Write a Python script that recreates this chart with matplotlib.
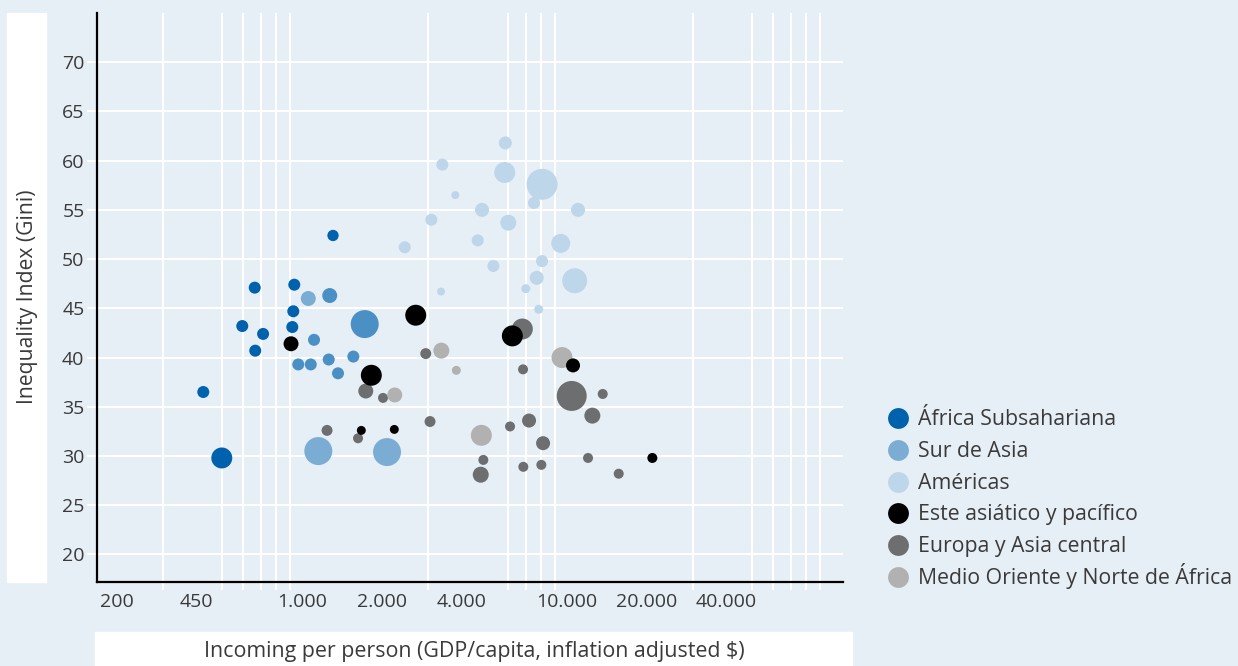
import matplotlib
matplotlib.use("Agg")
import matplotlib.pyplot as plt
from matplotlib.lines import Line2D
from matplotlib.patches import Rectangle

plt.rcParams['font.family'] = ['Open Sans', 'DejaVu Sans']

# ---- data (GDP per capita, Gini, population-ish size) ----
africa_gdp = [1309, 663, 935, 927, 595, 919, 713, 666, 424, 498]
africa_gini = [52.4, 47.1, 47.4, 44.7, 43.2, 43.1, 42.4, 40.7, 36.5, 29.8]
africa_pop = [32, 36, 36, 36, 36, 36, 36, 36, 36, 110]

sur_asia_gdp = [1056, 1152, 2093, 1272, 1724, 1110, 968, 1079, 1261, 1562, 1367]
sur_asia_gini = [46.0, 30.5, 30.4, 46.3, 43.4, 41.8, 39.3, 39.3, 39.8, 40.1, 38.4]
sur_asia_pop = [56, 196, 196, 56, 196, 36, 36, 36, 36, 36, 36]
sur_asia_light = [1, 1, 1, 0, 0, 0, 0, 0, 0, 0, 0]

americas_gdp = [5850, 3384, 5821, 8049, 3789, 7506, 11004, 4778, 3076, 6003,
                2441, 4603, 9467, 8049, 5271, 7685, 10690, 3346, 6986, 7820]
americas_gini = [61.8, 59.6, 58.8, 57.6, 56.5, 55.7, 55.0, 55.0, 54.0, 53.7,
                 51.2, 51.9, 51.6, 49.8, 49.3, 48.1, 47.8, 46.7, 47.0, 44.9]
americas_pop = [42, 36, 110, 240, 16, 36, 49, 49, 36, 64,
                36, 36, 90, 36, 36, 49, 156, 16, 20, 20]

east_asia_gdp = [2686, 6218, 909, 1826, 10535, 1674, 2230, 20990]
east_asia_gini = [44.3, 42.2, 41.4, 38.2, 39.2, 32.6, 32.7, 29.8]
east_asia_pop = [110, 110, 56, 110, 49, 20, 20, 25]

europe_gdp = [6782, 2930, 6823, 1740, 2021, 10416, 13636, 12461, 3041, 6095,
              7189, 8121, 4833, 4725, 6841, 8000, 12002, 15668, 1243, 1627]
europe_gini = [42.9, 40.4, 38.8, 36.6, 35.9, 36.1, 36.3, 34.1, 33.5, 33.0,
               33.6, 31.3, 29.6, 28.1, 28.9, 29.1, 29.8, 28.2, 32.6, 31.8]
europe_pop = [110, 30, 25, 56, 25, 225, 25, 64, 30, 25,
              49, 49, 25, 64, 25, 25, 25, 25, 30, 25]

mena_gdp = [3355, 3822, 9574, 2238, 4750]
mena_gini = [40.7, 38.7, 40.0, 36.2, 32.1]
mena_pop = [64, 20, 110, 56, 110]

region_names = ['África Subsahariana', 'Sur de Asia', 'Américas',
                'Este asiático y pacífico', 'Europa y Asia central',
                'Medio Oriente y Norte de África']
region_colors = ['#0061ad', '#7badd4', '#bdd6ea', '#000000', '#6d6e70', '#b1b1b2']
sur_asia_dark = '#4b90c5'

x_grid = [200, 300, 400, 500, 600, 700, 800, 900,
          1000, 2000, 3000, 4000, 6000, 7000, 8000, 9000,
          10000, 20000, 30000, 40000, 50000, 60000, 70000, 80000, 90000]
x_tick_vals = [200, 400, 1000, 2000, 4000, 10000, 20000, 40000]
x_tick_labels = ['200', '450', '1.000', '2.000', '4.000', '10.000', '20.000', '40.000']
y_ticks = [20, 25, 30, 35, 40, 45, 50, 55, 60, 65, 70]

bg = '#e6eef6'
txt = '#3a3a3a'
W, H = 1238, 666
fig = plt.figure(figsize=(W / 100, H / 100), dpi=100, facecolor=bg)
ax = fig.add_axes([97 / W, (H - 582) / H, (843 - 97) / W, (582 - 13) / H])
ax.set_facecolor(bg)

ax.set_xscale('log')
ax.set_xlim(168.4, 110000)
ax.set_ylim(17.2, 75)

# gridlines as minor ticks on x, majors carry the labels
ax.set_xticks(x_grid, minor=True)
ax.set_xticks(x_tick_vals)
ax.set_xticklabels(x_tick_labels)
ax.xaxis.set_minor_formatter(plt.NullFormatter())
ax.grid(which='minor', axis='x', color='white', lw=1.5)
ax.tick_params(axis='x', which='minor', length=6, width=1.5, color='white')
ax.tick_params(axis='x', which='major', length=0, pad=8, labelsize=14, labelcolor=txt)

ax.set_yticks(y_ticks)
ax.grid(which='major', axis='y', color='white', lw=1.5)
ax.tick_params(axis='y', length=7.5, width=1.5, color='white', pad=1.5,
               labelsize=14, labelcolor=txt)
ax.set_axisbelow(True)

for side in ['top', 'right']:
    ax.spines[side].set_visible(False)
for side in ['left', 'bottom']:
    ax.spines[side].set_color('black')
    ax.spines[side].set_linewidth(1.6)

k = 2.07  # radius^2 in px -> points^2
ax.scatter(africa_gdp, africa_gini, s=[p * k for p in africa_pop],
           color=region_colors[0], lw=0, zorder=3)
ax.scatter(sur_asia_gdp, sur_asia_gini, s=[p * k for p in sur_asia_pop],
           color=[region_colors[1] if l else sur_asia_dark for l in sur_asia_light],
           lw=0, zorder=3)
ax.scatter(americas_gdp, americas_gini, s=[p * k for p in americas_pop],
           color=region_colors[2], lw=0, zorder=3)
ax.scatter(europe_gdp, europe_gini, s=[p * k for p in europe_pop],
           color=region_colors[4], lw=0, zorder=3)
ax.scatter(mena_gdp, mena_gini, s=[p * k for p in mena_pop],
           color=region_colors[5], lw=0, zorder=3)
ax.scatter(east_asia_gdp, east_asia_gini, s=[p * k for p in east_asia_pop],
           color=region_colors[3], lw=0, zorder=4)

# white boxes behind the axis titles
fig.patches.append(Rectangle((7 / W, (H - 582) / H), 39 / W, (582 - 13) / H,
                             transform=fig.transFigure, color='white', zorder=0))
fig.patches.append(Rectangle((95 / W, 0), (852 - 95) / W, 34 / H,
                             transform=fig.transFigure, color='white', zorder=0))
fig.text(27 / W, (H - 297) / H, 'Inequality Index (Gini)', rotation=90,
         ha='center', va='center', fontsize=15.2, color=txt)
fig.text(474 / W, (H - 652) / H,
         'Incoming per person (GDP/capita, inflation adjusted $)',
         ha='center', va='center', fontsize=15.4, color=txt)

# legend drawn row by row so the accented last line keeps even spacing
for i, (name, c) in enumerate(zip(region_names, region_colors)):
    yc = 418 + i * 31.8
    fig.add_artist(Line2D([898 / W], [1 - yc / H], ls='none', marker='o',
                          markersize=15, markerfacecolor=c, markeredgewidth=0))
    fig.text(918 / W, 1 - (yc + 7) / H, name, ha='left', va='baseline',
             fontsize=15.3, color=txt)

fig.savefig('out.png', dpi=100, facecolor=bg)
